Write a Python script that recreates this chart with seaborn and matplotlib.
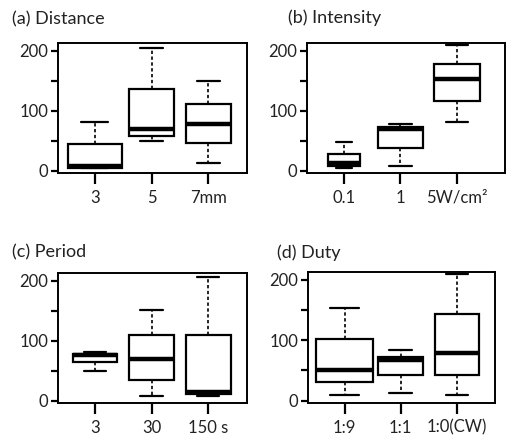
import matplotlib
matplotlib.use("Agg")
import matplotlib.pyplot as plt
import numpy as np
import pandas as pd
import seaborn as sns

sns.set_theme(style="ticks")
plt.rcParams["font.family"] = ["Lato", "DejaVu Sans"]

# five-number summaries per box: min, q1, median, q3, max
dist_cats = ["3", "5", "7mm"]
dist_vals = [[4, 5, 8, 45, 81], [50, 58, 70, 137, 204], [12, 46, 77, 112, 150]]

inten_cats = ["0.1", "1", "5W/cm²"]
inten_vals = [[4, 8, 12, 28, 48], [7, 37, 69, 73, 78], [81, 116, 153, 178, 209]]

period_cats = ["3", "30", "150 s"]
period_vals = [[49, 65, 76, 78, 81], [7, 35, 69, 109, 152], [8, 11, 15, 109, 206]]

duty_cats = ["1:9", "1:1", "1:0(CW)"]
duty_vals = [[10, 30, 50, 102, 154], [12, 42, 68, 73, 84], [9, 42, 79, 143, 209]]

panels = [
    ("(a) Distance", dist_cats, dist_vals, [0.95, 0.8, 0.8]),
    ("(b) Intensity", inten_cats, inten_vals, [0.55, 0.8, 0.8]),
    ("(c) Period", period_cats, period_vals, [0.78, 0.8, 0.78]),
    ("(d) Duty", duty_cats, duty_vals, [1.0, 0.8, 0.78]),
]

W, H = 515, 443
fig = plt.figure(figsize=(W / 100, H / 100), dpi=100)

# axes boxes in pixels: left, top, right, bottom
boxes = [(58, 43, 247, 173), (307, 43, 505, 173), (58, 273, 247, 403), (308, 272, 495, 403)]
xlims = [(-0.65, 2.68), (-0.655, 2.85), (-0.65, 2.68), (-0.65, 2.68)]
titles_xy = [(12, 19), (288, 18), (12, 252), (277, 253)]

for (title, cats, vals, widths), (l, t, r, b), xl, (tx, ty) in zip(panels, boxes, xlims, titles_xy):
    ax = fig.add_axes([l / W, 1 - b / H, (r - l) / W, (b - t) / H])
    df = pd.DataFrame({
        "cat": np.repeat(cats, 5),
        "val": np.concatenate(vals),
    })
    for c, w in zip(cats, widths):
        sns.boxplot(data=df[df["cat"] == c], x="cat", y="val", order=cats,
                    width=w, whis=(0, 100), color="white", linecolor="black",
                    linewidth=1.6, saturation=1, ax=ax,
                    medianprops=dict(linewidth=3.2, color="black"),
                    whiskerprops=dict(linestyle=(0, (2, 1.5)), linewidth=1.2),
                    capprops=dict(linewidth=1.6))
    ax.set_xlim(*xl)
    ax.set_ylim(-4, 213)
    ax.set_xticks(range(3))
    ax.set_xticklabels(cats, fontsize=12, color="#222222")
    ax.set_yticks([0, 50, 100, 150, 200])
    ax.set_yticklabels(["0", "", "100", "", "200"], fontsize=12, color="#222222")
    ax.set_xlabel("")
    ax.set_ylabel("")
    ax.tick_params(axis="x", direction="out", length=8, width=1.6, pad=4, color="black")
    ax.tick_params(axis="y", direction="out", length=5, width=1.6, pad=2, color="black")
    for sp in ax.spines.values():
        sp.set_visible(True)
        sp.set_linewidth(1.4)
        sp.set_color("black")
    fig.text(tx / W, 1 - ty / H, title, fontsize=13, ha="left", va="center", color="#222222")

plt.savefig("out.png", dpi=100)
